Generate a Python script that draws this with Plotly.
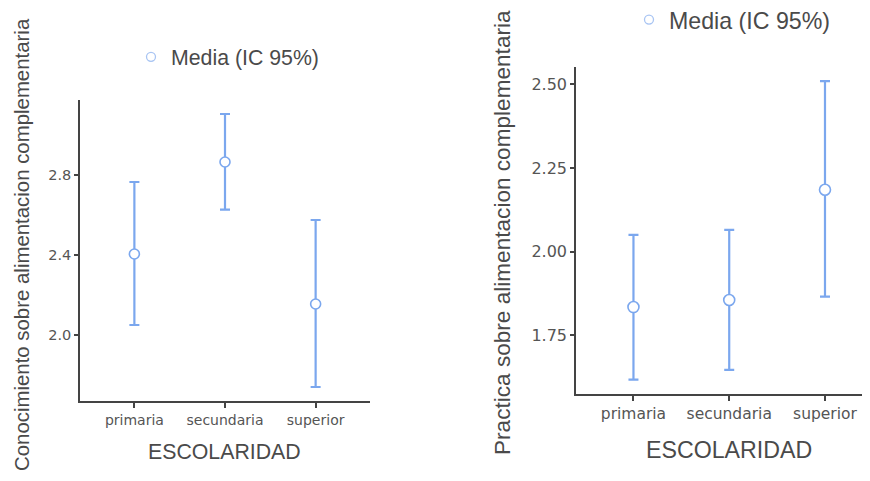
import plotly.graph_objects as go

categories = ["primaria", "secundaria", "superior"]

# Chart 1: Conocimiento
con_mean = [2.405, 2.865, 2.155]
con_upper = [2.765, 3.105, 2.575]
con_lower = [2.05, 2.627, 1.74]

# Chart 2: Practica
pra_mean = [1.834, 1.855, 2.185]
pra_upper = [2.050, 2.065, 2.51]
pra_lower = [1.617, 1.646, 1.865]

con_ticks = [2.0, 2.4, 2.8]
con_ticktext = ["2.0", "2.4", "2.8"]
pra_ticks = [1.75, 2.00, 2.25, 2.50]
pra_ticktext = ["1.75", "2.00", "2.25", "2.50"]

legend_label = "Media (IC 95%)"
x_title = "ESCOLARIDAD"
y1_title = "Conocimiento sobre alimentacion complementaria"
y2_title = "Practica sobre alimentacion complementaria"

BAR = "#7ba7ee"
LEG = "#a9c5f3"
AXIS = "#444444"
TXT = "#4a4a4a"
TICKTXT = "#555555"
TITLE_FONT = "Liberation Sans, Arial, sans-serif"
TICK_FONT = "DejaVu Sans, sans-serif"

fig = go.Figure()

def add_panel(mean, upper, lower, xa, ya, leg, msize):
    fig.add_trace(go.Scatter(
        x=categories, y=mean, mode="markers", xaxis=xa, yaxis=ya,
        showlegend=False,
        marker=dict(size=msize, color="white", line=dict(color=BAR, width=1.6)),
        error_y=dict(type="data", symmetric=False,
                     array=[u - m for u, m in zip(upper, mean)],
                     arrayminus=[m - l for m, l in zip(mean, lower)],
                     color=BAR, thickness=2.2, width=5),
    ))
    fig.add_trace(go.Scatter(
        x=[None], y=[None], mode="markers", xaxis=xa, yaxis=ya,
        name=legend_label, legend=leg, showlegend=True,
        marker=dict(size=9, color="white", line=dict(color=LEG, width=1.3)),
    ))

add_panel(con_mean, con_upper, con_lower, "x", "y", "legend", 10)
add_panel(pra_mean, pra_upper, pra_lower, "x2", "y2", "legend2", 11)

# page body has an 8px margin; figure sits at (8, 8)
OFF = 8
W, H = 870 - OFF, 481 - OFF
def px(v): return (v - OFF) / W
def py(v): return 1 - (v - OFF) / H

def xax(size):
    return dict(type="category", showline=True, linecolor=AXIS, linewidth=1.5,
                ticks="outside", ticklen=5, tickcolor=AXIS, tickwidth=1.5,
                showgrid=False, zeroline=False,
                tickfont=dict(family=TICK_FONT, size=size, color=TICKTXT))

def yax(size):
    return dict(showline=True, linecolor=AXIS, linewidth=1.5,
                ticks="outside", ticklen=4, tickcolor=AXIS, tickwidth=1.5,
                showgrid=False, zeroline=False,
                tickfont=dict(family=TICK_FONT, size=size, color=TICKTXT))

F1, F2 = 21.3, 23.2

fig.update_layout(
    width=W, height=H,
    paper_bgcolor="white", plot_bgcolor="white",
    margin=dict(l=0, r=0, t=0, b=0, autoexpand=False),
    xaxis=dict(xax(14), domain=[px(80), px(370)], range=[-0.6, 2.6], anchor="y"),
    yaxis=dict(yax(14.5), domain=[py(401), py(100)], range=[1.67, 3.175],
               tickvals=con_ticks, ticktext=con_ticktext, anchor="x"),
    xaxis2=dict(xax(15.5), domain=[px(576), 1.0], range=[-0.6, 2.47], anchor="y2"),
    yaxis2=dict(yax(16), domain=[py(394), py(67)], range=[1.574, 2.552],
                tickvals=pra_ticks, ticktext=pra_ticktext, anchor="x2"),
    legend=dict(x=px(131), y=py(57), xanchor="left", yanchor="middle",
                font=dict(family=TITLE_FONT, size=F1, color=TXT),
                bgcolor="rgba(0,0,0,0)"),
    legend2=dict(x=px(629), y=py(20), xanchor="left", yanchor="middle",
                 font=dict(family=TITLE_FONT, size=F2, color=TXT),
                 bgcolor="rgba(0,0,0,0)"),
    annotations=[
        dict(text=x_title, x=px(224), y=py(452), xref="paper", yref="paper",
             showarrow=False, xanchor="center", yanchor="middle",
             font=dict(family=TITLE_FONT, size=F1, color=TXT)),
        dict(text=x_title, x=px(729), y=py(450), xref="paper", yref="paper",
             showarrow=False, xanchor="center", yanchor="middle",
             font=dict(family=TITLE_FONT, size=F2, color=TXT)),
        dict(text=y1_title, x=px(22), y=py(245), xref="paper", yref="paper",
             showarrow=False, xanchor="center", yanchor="middle", textangle=-90,
             font=dict(family=TITLE_FONT, size=20.4, color=TXT)),
        dict(text=y2_title, x=px(502), y=py(233), xref="paper", yref="paper",
             showarrow=False, xanchor="center", yanchor="middle", textangle=-90,
             font=dict(family=TITLE_FONT, size=22.6, color=TXT)),
    ],
)

fig.write_html("out.html")
